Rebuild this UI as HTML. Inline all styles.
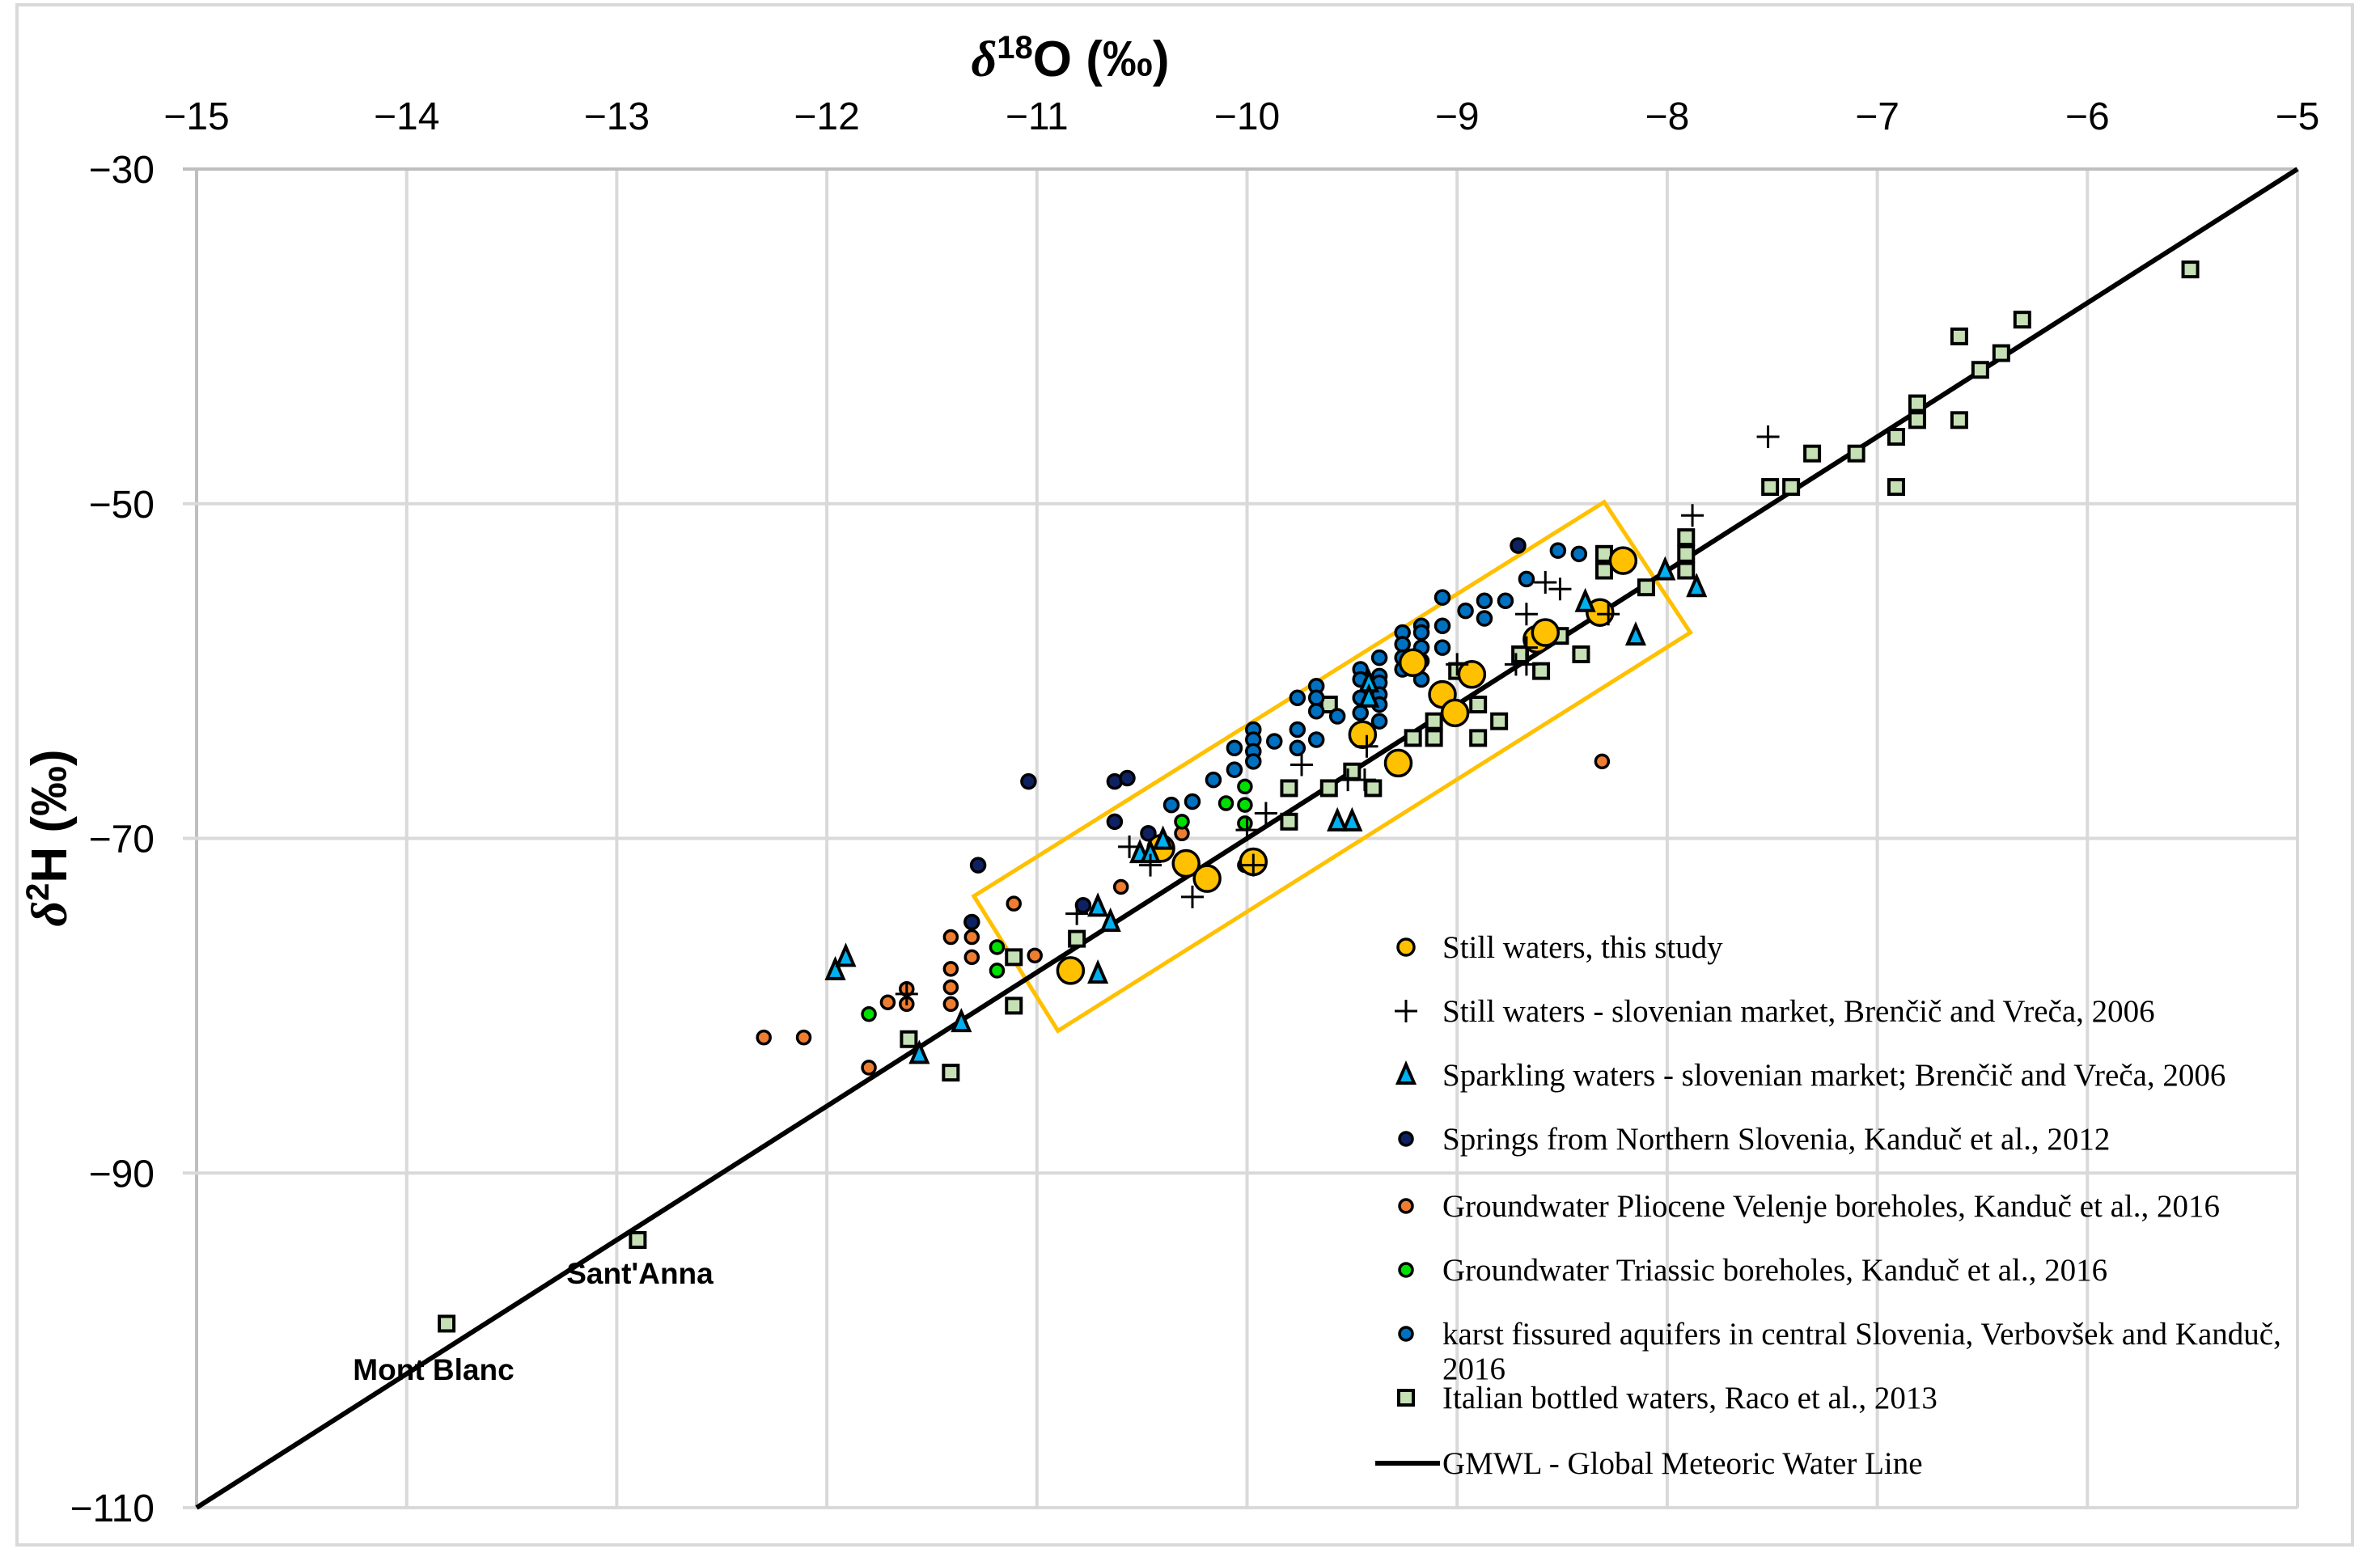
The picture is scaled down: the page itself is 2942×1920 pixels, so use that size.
<!DOCTYPE html>
<html><head><meta charset="utf-8"><style>
html,body{margin:0;padding:0;background:#fff;}
svg{display:block;}
</style></head><body>
<svg id="chart" xmlns="http://www.w3.org/2000/svg" width="2942" height="1920" viewBox="0 0 2942 1920">
<rect x="21" y="6" width="2887" height="1904" fill="#fff" stroke="#d9d9d9" stroke-width="4"/>
<g id="grid"></g>
<g id="ticks"></g>
<text x="1323" y="94" text-anchor="middle" font-family="Liberation Sans, sans-serif" font-weight="bold" font-size="62"><tspan font-style="italic" font-family="Liberation Serif, serif">δ</tspan><tspan font-size="40" dy="-22">18</tspan><tspan dy="22">O (‰)</tspan></text>
<text transform="translate(82,1036) rotate(-90)" text-anchor="middle" font-family="Liberation Sans, sans-serif" font-weight="bold" font-size="62"><tspan font-style="italic" font-family="Liberation Serif, serif">δ</tspan><tspan font-size="40" dy="-22">2</tspan><tspan dy="22">H (‰)</tspan></text>
<g id="marks"></g>
<text x="791" y="1587" text-anchor="middle" font-family="Liberation Sans, sans-serif" font-weight="bold" font-size="37">Sant'Anna</text>
<text x="536" y="1706" text-anchor="middle" font-family="Liberation Sans, sans-serif" font-weight="bold" font-size="37">Mont Blanc</text>
<g id="legend"></g>
</svg>
<script>
const xTicks = [-15,-14,-13,-12,-11,-10,-9,-8,-7,-6,-5];
const yTicks = [-30,-50,-70,-90,-110];
const yTickLabels = ["−30","−50","−70","−90","−110"];
const gmwlX = [-15,-5];
const boxX = [-11.30,-8.30,-7.89,-10.90];
const boxY = [-73.45,-49.9,-57.7,-81.5];

const stillX = [-10.84,-10.41,-10.29,-10.19,-9.97,-9.45,-9.28,-9.07,-9.01,-8.93,-9.21,-8.62,-8.58,-8.32,-8.21];
const stillY = [-77.9,-70.6,-71.5,-72.4,-71.4,-63.8,-65.5,-61.4,-62.5,-60.2,-59.5,-58.1,-57.7,-56.5,-53.4];

const crossX = [-7.52,-7.88,-8.51,-8.28,-8.58,-8.67,-8.67,-8.72,-8.67,-9.0,-9.43,-9.74,-9.52,-9.44,-9.91,-10.0,-9.97,-10.46,-10.26,-10.81,-10.56,-11.62];
const crossY = [-46.0,-50.7,-55.1,-56.6,-54.7,-56.6,-58.6,-59.6,-59.6,-59.6,-64.5,-65.6,-66.5,-66.5,-68.5,-69.5,-71.6,-71.6,-73.5,-74.5,-70.5,-79.3];

const triX = [-11.96,-11.91,-11.56,-11.36,-10.71,-10.65,-10.71,-10.51,-10.46,-10.40,-9.57,-9.50,-8.01,-7.86,-8.15,-8.39,-9.42,-9.42];
const triY = [-77.9,-77.1,-82.9,-81.0,-74.1,-75.0,-78.1,-70.9,-70.9,-70.1,-69.0,-69.0,-54.0,-55.0,-57.9,-55.9,-60.7,-61.6];

const springX = [-11.04,-10.63,-10.57,-10.63,-11.28,-11.31,-10.78,-10.47,-8.71];
const springY = [-66.6,-66.6,-66.4,-69.0,-71.6,-75.0,-74.0,-69.7,-52.5];

const plioX = [-12.30,-12.11,-11.80,-11.71,-11.62,-11.62,-11.41,-11.41,-11.41,-11.41,-11.31,-11.31,-11.11,-11.01,-10.60,-10.31,-8.31];
const plioY = [-81.9,-81.9,-83.7,-79.8,-79.0,-79.9,-77.8,-78.9,-79.9,-75.9,-75.9,-77.1,-73.9,-77.0,-72.9,-69.7,-65.4];

const triasX = [-11.80,-11.19,-11.19,-10.31,-10.31,-10.10,-10.01,-10.01,-10.01,-10.01];
const triasY = [-80.5,-76.5,-77.9,-71.8,-69.0,-67.9,-66.9,-68.0,-69.1,-71.6];

const karstX = [-8.52,-8.42,-8.67,-9.07,-8.87,-8.77,-8.96,-8.87,-9.17,-9.17,-9.07,-9.26,-9.26,-9.17,-9.07,-9.26,-9.26,-9.17,-9.17,-9.37,-9.46,-9.37,-9.37,-9.37,-9.37,-9.37,-9.46,-9.46,-9.46,-9.67,-9.67,-9.67,-9.76,-9.76,-9.76,-9.67,-9.87,-9.97,-9.97,-9.97,-9.97,-10.06,-10.06,-10.16,-10.26,-10.36,-9.57];
const karstY = [-52.8,-53.0,-54.5,-55.6,-55.8,-55.8,-56.4,-56.85,-57.3,-57.7,-57.3,-57.7,-58.4,-58.6,-58.6,-59.2,-59.9,-59.4,-60.5,-59.2,-59.9,-60.3,-60.7,-61.4,-62.0,-63.0,-60.5,-61.6,-62.5,-60.9,-61.6,-62.4,-61.6,-63.5,-64.6,-64.1,-64.2,-63.5,-64.1,-64.8,-65.4,-64.6,-65.9,-66.5,-67.8,-68.0,-62.7];

const italX = [-5.51,-6.61,-6.31,-6.41,-6.51,-6.81,-6.81,-6.61,-6.91,-7.31,-7.10,-7.51,-7.41,-6.91,-7.91,-7.91,-7.91,-8.10,-8.30,-8.30,-8.51,-8.60,-8.41,-8.70,-8.80,-8.90,-8.90,-9.11,-9.11,-9.21,-9.00,-9.50,-9.40,-9.61,-9.80,-9.80,-9.61,-9.40,-10.81,-11.11,-11.11,-11.61,-11.41,-12.90,-13.81];
const italY = [-36.0,-40.0,-39.0,-41.0,-42.0,-44.0,-45.0,-45.0,-46.0,-47.0,-47.0,-49.0,-49.0,-49.0,-52.0,-53.0,-54.0,-55.0,-53.0,-54.0,-57.9,-60.0,-59.0,-59.0,-63.0,-64.0,-62.0,-64.0,-63.0,-64.0,-60.0,-66.0,-67.0,-67.0,-67.0,-69.0,-62.0,-61.0,-76.0,-77.1,-80.0,-82.0,-84.0,-94.0,-99.0];

const X0=243, X1=2840, Y0=209, Y1=1864;
function sx(v){return X0+(v+15)/10*(X1-X0);}
function sy(v){return Y0+(-30-v)/80*(Y1-Y0);}
const NS="http://www.w3.org/2000/svg";
function mk(tag,attrs,parent){const e=document.createElementNS(NS,tag);for(const k in attrs)e.setAttribute(k,attrs[k]);parent.appendChild(e);return e;}

const grid=document.getElementById('grid'), ticks=document.getElementById('ticks'), marks=document.getElementById('marks'), legend=document.getElementById('legend');
xTicks.forEach((t,i)=>{
  const l=mk('line',{x1:sx(t),x2:sx(t),y1:Y0,y2:Y1,stroke:i===0?'#bfbfbf':'#d9d9d9','stroke-width':4},grid);
  
  
  const tx=mk('text',{x:sx(t),y:160,'text-anchor':'middle','font-family':'Liberation Sans, sans-serif','font-size':48},ticks);
  tx.textContent='−'+Math.abs(t);
  
  
});
yTicks.forEach((t,i)=>{
  const l=mk('line',{x1:X0-17,x2:X1,y1:sy(t),y2:sy(t),stroke:i===0?'#bfbfbf':'#d9d9d9','stroke-width':4},grid);
  
  
  const tx=mk('text',{x:191,y:sy(t)+17,'text-anchor':'end','font-family':'Liberation Sans, sans-serif','font-size':48},ticks);
  tx.textContent=yTickLabels[i];
  
  
});

const pts=boxX.map((x,i)=>sx(x)+','+sy(boxY[i])).join(' ');
const box=mk('polygon',{points:pts,fill:'none',stroke:'#ffc000','stroke-width':5},marks);



const gl=mk('line',{x1:sx(gmwlX[0]),y1:sy(8*gmwlX[0]+10),x2:sx(gmwlX[1]),y2:sy(8*gmwlX[1]+10),stroke:'#000','stroke-width':6},marks);



function circle(g,cx,cy,r,fill){return mk('circle',{cx:cx,cy:cy,r:r,fill:fill,stroke:'#000','stroke-width':3.5},g);}
function square(g,cx,cy){return mk('rect',{x:cx-9,y:cy-9,width:18,height:18,fill:'#c5e0b4',stroke:'#000','stroke-width':4},g);}
function tri(g,cx,cy){return mk('polygon',{points:(cx)+','+(cy-13)+' '+(cx-10)+','+(cy+10)+' '+(cx+10)+','+(cy+10),fill:'#00b0f0',stroke:'#000','stroke-width':4,'stroke-linejoin':'miter'},g);}
function cross(g,cx,cy){return mk('path',{d:'M'+(cx-14)+' '+cy+'H'+(cx+14)+'M'+cx+' '+(cy-14)+'V'+(cy+14),stroke:'#000','stroke-width':3,fill:'none'},g);}

italX.forEach((x,i)=>{const e=square(marks,sx(x),sy(italY[i]));
  
  });
plioX.forEach((x,i)=>{const e=circle(marks,sx(x),sy(plioY[i]),8,'#ed7d31');
  
  });
triasX.forEach((x,i)=>{const e=circle(marks,sx(x),sy(triasY[i]),8,'#00e000');
  
  });
springX.forEach((x,i)=>{const e=circle(marks,sx(x),sy(springY[i]),8.5,'#0e2161');
  
  });
karstX.forEach((x,i)=>{const e=circle(marks,sx(x),sy(karstY[i]),8.5,'#0070c0');
  
  });
stillX.forEach((x,i)=>{const e=circle(marks,sx(x),sy(stillY[i]),16,'#ffc000');
  
  });
triX.forEach((x,i)=>{const e=tri(marks,sx(x),sy(triY[i]));
  
  });
crossX.forEach((x,i)=>{const e=cross(marks,sx(x),sy(crossY[i]));
  
  });

const legLabels=["Still waters, this study","Still waters - slovenian market, Brenčič and Vreča, 2006","Sparkling waters - slovenian market; Brenčič and Vreča, 2006","Springs from Northern Slovenia, Kanduč et al., 2012","Groundwater Pliocene Velenje boreholes, Kanduč et al., 2016","Groundwater Triassic boreholes, Kanduč et al., 2016","karst fissured aquifers in central Slovenia, Verbovšek and Kanduč,","Italian bottled waters, Raco et al., 2013","GMWL - Global Meteoric Water Line"];
const legY=[1171,1250,1329,1408,1491,1570,1649,1728,1809];
const mx=1738, tx0=1783;
legLabels.forEach((lab,i)=>{
  const y=legY[i];
  let m;
  if(i===0) m=circle(legend,mx,y,10,'#ffc000');
  else if(i===1) m=cross(legend,mx,y);
  else if(i===2) m=tri(legend,mx,y);
  else if(i===3) m=circle(legend,mx,y,8,'#0e2161');
  else if(i===4) m=circle(legend,mx,y,8,'#ed7d31');
  else if(i===5) m=circle(legend,mx,y,8,'#00e000');
  else if(i===6) m=circle(legend,mx,y,8,'#0070c0');
  else if(i===7) m=square(legend,mx,y);
  else m=mk('line',{x1:1700,x2:1780,y1:y,y2:y,stroke:'#000','stroke-width':6},legend);
  
  
  const t=mk('text',{x:tx0,y:y+13,'font-family':'Liberation Serif, serif','font-size':39,fill:'#000'},legend);
  t.textContent=lab;
  
  
});
const t2=mk('text',{x:tx0,y:1705,'font-family':'Liberation Serif, serif','font-size':39,fill:'#000'},legend);
t2.textContent='2016';


</script>
</body></html>
